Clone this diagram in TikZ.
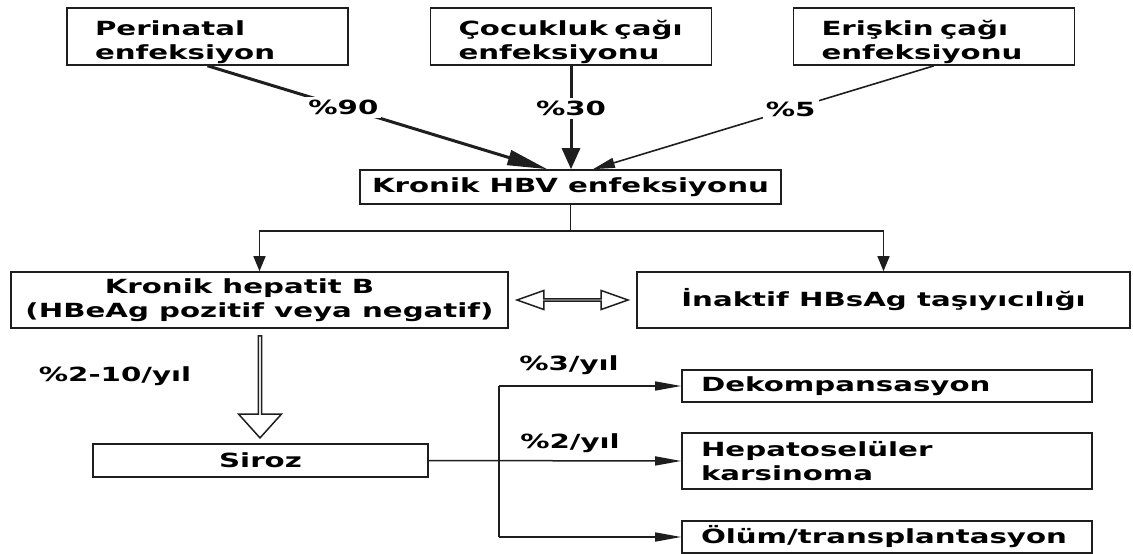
\documentclass[tikz,border=0pt]{standalone}
\usepackage{fontspec}
\setmainfont{DejaVu Sans}[FakeStretch=1.5]
\usetikzlibrary{arrows.meta,positioning,calc,shapes.arrows}
\definecolor{hbvInk}{HTML}{1e1e1e}
\newcommand{\dfont}{\fontsize{19.5}{24}\selectfont\bfseries}
\tikzset{
  >={Triangle[length=15pt,width=12pt]},
  topbox/.style={draw=hbvInk, line width=1.6pt, minimum height=57pt,
              text width=225pt, inner xsep=28pt, inner ysep=0pt,
              align=left, font=\dfont,
              execute at begin node={\rule{0pt}{26pt}}},
  midbox/.style={draw=hbvInk, line width=1.6pt, inner sep=0pt,
              align=center, font=\dfont},
  outbox/.style={draw=hbvInk, line width=1.6pt, text width=372pt,
              inner xsep=19pt, inner ysep=0pt, align=left, font=\dfont},
  pct/.style={font=\dfont, fill=white, inner sep=3pt},
  heavy/.style={draw=hbvInk, line width=3pt},
  light/.style={draw=hbvInk, line width=1.6pt,
              -{Triangle[length=22pt,width=10pt]}},
  conn/.style={->, draw=hbvInk, line width=1.5pt},
  trunk/.style={draw=hbvInk, line width=1.5pt},
  branch/.style={draw=hbvInk, line width=1.5pt,
              -{Triangle[length=26pt,width=9pt]}},
  openarrow/.style={single arrow, draw=hbvInk, line width=1.5pt, fill=white,
              minimum height=102pt, minimum width=43pt, inner sep=0pt,
              single arrow head extend=9pt, single arrow tip angle=84,
              rotate=-90},
  openlink/.style={double arrow, draw=hbvInk, line width=1.5pt, fill=white,
              minimum height=111pt, minimum width=19pt, inner sep=0pt,
              double arrow head extend=5pt, double arrow tip angle=39},
}

\begin{document}
\begin{tikzpicture}[x=1pt,y=-1pt]
  \useasboundingbox (0,0) rectangle (1133,554);
  % routes of infection
  \node[topbox] (peri)  at (207.5,36.5) {Perinatal\\enfeksiyon};
  \node[topbox] (child) at (571,36.5)   {Çocukluk çağı\\enfeksiyonu};
  \node[topbox] (adult) at (934,36.5)   {Erişkin çağı\\enfeksiyonu};
  \node[midbox,minimum width=421pt,minimum height=34pt] (hbv) at (570.5,187)
        {Kronik HBV enfeksiyonu};
  \draw[heavy,-{Triangle[length=40pt,width=15pt]}] (peri.south)
        -- node[pct,pos=0.4] (lbl90) {\%90}
        ($(hbv.north west)!0.445!(hbv.north east)$);
  \draw[heavy,-{Triangle[length=21pt,width=18pt]}] (child.south)
        -- node[pct,pos=0.41] (lbl30) {\%30} (child.south |- hbv.north);
  \draw[light] (adult.south)
        -- node[pct,pos=0.42] (lbl5) {\%5}
        ($(hbv.north west)!0.553!(hbv.north east)$);
  % chronic phases
  \node[midbox,minimum width=497pt,minimum height=56pt] (chb) at (259.5,300)
        {Kronik hepatit B\hspace*{40pt}\\(HBeAg pozitif veya negatif)};
  \node[midbox,minimum width=493pt,minimum height=56pt] (carrier) at (883.5,300)
        {İnaktif HBsAg taşıyıcılığı};
  \draw[conn] (hbv.south) -- ++(0,26) coordinate (split) -| (chb.north);
  \draw[conn] (split) -| (carrier.north);
  \node[openlink] (swap) at ($(chb.east)!0.5!(carrier.west)$) {};
  % cirrhosis and outcomes
  \node[midbox,minimum width=335pt,minimum height=33pt] (cirr) at (260.5,460.5)
        {Siroz};
  \node[openarrow] (prog) at ($(chb.south)!0.5!(cirr.north)$) {};
  \node[pct] (rate10) at (115,376) {\%2-10/yıl};
  \node[outbox,minimum height=32pt] (decomp) at (887,386) {Dekompansasyon};
  \node[outbox,minimum height=56pt] (hcc) at (887,461) {Hepatoselüler\\karsinoma};
  \node[outbox,minimum height=32pt] (death) at (887,537) {Ölüm/transplantasyon};
  \coordinate (fork) at (499,460.5);
  \draw[branch] (cirr.east) -- (hcc.west);
  \draw[trunk] (fork |- decomp.west) -- (fork |- death.west);
  \draw[branch] (fork |- decomp.west) -- (decomp.west);
  \draw[branch] (fork |- death.west) -- (death.west);
  \node[pct,fill=none] (rate3) at (569,365) {\%3/yıl};
  \node[pct,fill=none] (rate2) at (570,443) {\%2/yıl};
\end{tikzpicture}
\end{document}
